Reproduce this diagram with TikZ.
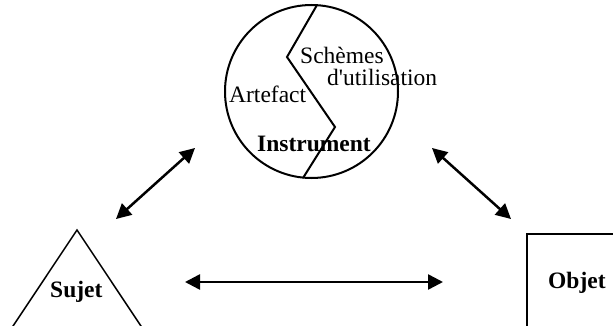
\documentclass[tikz,border=0pt]{standalone}
\usepackage{fontspec}
\setmainfont{Liberation Serif}[Ligatures=TeXOff]
\usetikzlibrary{arrows.meta}
\begin{document}
\begin{tikzpicture}[x=1pt,y=-1pt,
    lbl/.style={anchor=base west,inner sep=0pt,font=\fontsize{23.5}{28}\selectfont},
    blbl/.style={lbl,font=\fontsize{23.5}{28}\selectfont\bfseries},
    link/.style={line width=2.5pt,{Triangle[length=15pt,width=15pt]}-{Triangle[length=15pt,width=15pt]}},
    outline/.style={line width=2pt},
    thin outline/.style={line width=1.5pt}]
  \useasboundingbox (0,0) rectangle (613,326);
  \clip (0,0) rectangle (613,326);

  % Instrument: circle split by a zigzag
  \node[draw,circle,outline,minimum size=173pt,inner sep=0pt] (instr) at (311.5,91.5) {};
  \draw[outline,line join=miter] (317,5) -- (287,57) -- (335,127) -- (303,178);
  \node[lbl]  (schemes) at (300,64)  {Schèmes};
  \node[lbl]  (util)    at (327,86)  {d'utilisation};
  \node[lbl]  (artef)   at (229,103) {Artefact};
  \node[blbl] (instrlbl) at (257,152) {Instrument};

  % Sujet: triangle running off the lower edge
  \draw[thin outline,line join=miter] (3.7,340) -- (77,230) -- (150.3,340);
  \node[blbl] (sujet) at (50,297) {Sujet};

  % Objet: box running off the right and lower edges
  \draw[outline] (640,234) -- (527,234) -- (527,340);
  \node[blbl] (objet) at (548,288) {Objet};

  % Two-way links
  \coordinate (sI) at (195,148);
  \coordinate (sS) at (116,219);
  \coordinate (oI) at (432,148);
  \coordinate (oO) at (511,219);
  \coordinate (hS) at (185,282);
  \coordinate (hO) at (443,282);
  \draw[link] (sS) -- (sI);
  \draw[link] (oI) -- (oO);
  \draw[link] (hS) -- (hO);
\end{tikzpicture}
\end{document}
